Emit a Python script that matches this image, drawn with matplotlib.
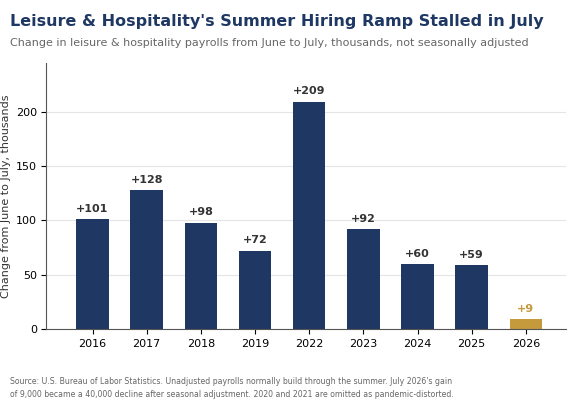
import matplotlib
matplotlib.use("Agg")
import matplotlib.pyplot as plt

years = ["2016","2017","2018","2019","2022","2023","2024","2025","2026"]
values = [101,128,98,72,209,92,60,59,9]
labels = ["+101","+128","+98","+72","+209","+92","+60","+59","+9"]

navy = "#1f3763"; gold = "#c49a3c"
colors = [navy]*8 + [gold]

fig = plt.figure(figsize=(5.81,4.04), dpi=100)
ax = fig.add_axes([0.08, 0.185, 0.895, 0.66])
x = range(len(years))
ax.bar(x, values, width=0.6, color=colors, zorder=2)
for i,(v,l) in enumerate(zip(values,labels)):
    ax.text(i, v+5, l, ha="center", va="bottom", fontsize=8, fontweight="bold",
            color=(gold if i==8 else "#333333"))
ax.set_xticks(list(x)); ax.set_xticklabels(years, fontsize=8)
ax.set_yticks([0,50,100,150,200]); ax.tick_params(axis="y", labelsize=8)
ax.set_ylim(0,245); ax.set_xlim(-0.85,8.75)
ax.grid(axis="y", color="#e5e5e5", zorder=0)
for s in ["top","right"]: ax.spines[s].set_visible(False)
ax.spines["left"].set_color("#555555"); ax.spines["bottom"].set_color("#555555")
ax.set_ylabel("Change from June to July, thousands", fontsize=8, color="#333333", labelpad=3)
fig.text(0.017, 0.935, "Leisure & Hospitality's Summer Hiring Ramp Stalled in July",
         fontsize=11.5, fontweight="bold", color="#1f3763")
fig.text(0.017, 0.885, "Change in leisure & hospitality payrolls from June to July, thousands, not seasonally adjusted",
         fontsize=8, color="#666666")
fig.text(0.017, 0.018, "Source: U.S. Bureau of Labor Statistics. Unadjusted payrolls normally build through the summer. July 2026's gain\nof 9,000 became a 40,000 decline after seasonal adjustment. 2020 and 2021 are omitted as pandemic-distorted.",
         fontsize=5.6, color="#666666", linespacing=1.5)
fig.savefig("out.png", dpi=100)
